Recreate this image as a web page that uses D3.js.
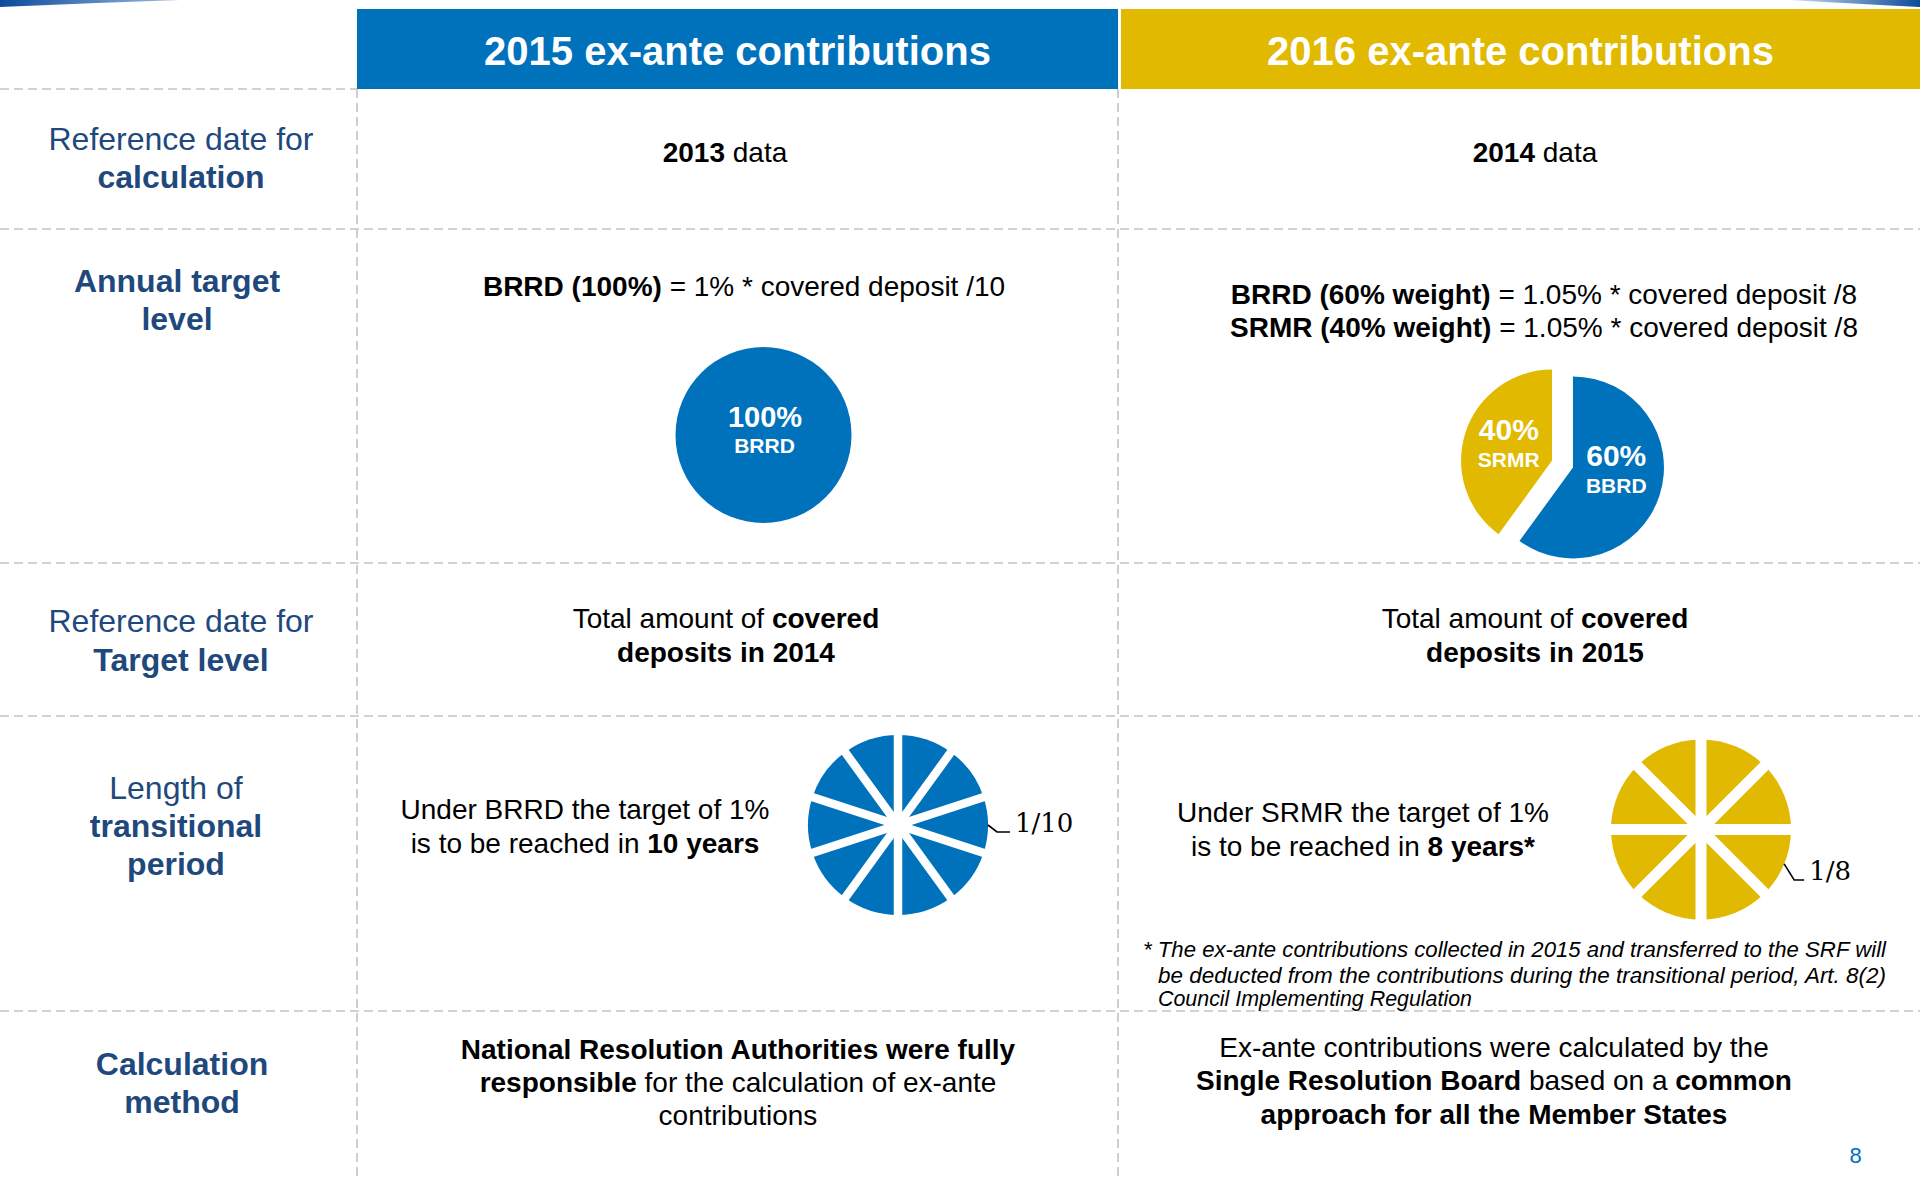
<!DOCTYPE html>
<html>
<head>
<meta charset="utf-8">
<script src="https://cdn.jsdelivr.net/npm/d3@7"></script>
<style>
body { margin: 0; background: #fff; }
svg { display: block; font-family: "Liberation Sans", Arial, sans-serif; }
text { white-space: pre; }
</style>
</head>
<body>
<svg id="chart" width="1920" height="1181"></svg>
<script>
const BLUE = "#0072bc";
const YELLOW = "#e1b900";
const NAVY = "#1f497d";

// column headers
const headers = ["2015 ex-ante contributions", "2016 ex-ante contributions"];

// row labels, each line is a list of [text, bold]
const rowLabels = [
    [[["Reference date for", false]], [["calculation", true]]],
    [[["Annual target", true]], [["level", true]]],
    [[["Reference date for", false]], [["Target level", true]]],
    [[["Length of", false]], [["transitional", true]], [["period", true]]],
    [[["Calculation", true]], [["method", true]]]
];

const refDates = [
    [[["2013", true], [" data", false]]],
    [[["2014", true], [" data", false]]]
];

const targetFormulas = [
    [[["BRRD (100%)", true], [" = 1% * covered deposit /10", false]]],
    [[["BRRD (60% weight)", true], [" = 1.05% * covered deposit /8", false]],
     [["SRMR (40% weight)", true], [" = 1.05% * covered deposit /8", false]]]
];

const targetRefs = [
    [[["Total amount of ", false], ["covered", true]], [["deposits in 2014", true]]],
    [[["Total amount of ", false], ["covered", true]], [["deposits in 2015", true]]]
];

const transitionTexts = [
    [[["Under BRRD the target of 1%", false]], [["is to be reached in ", false], ["10 years", true]]],
    [[["Under SRMR the target of 1%", false]], [["is to be reached in ", false], ["8 years*", true]]]
];

const methodTexts = [
    [[["National Resolution Authorities were fully", true]],
     [["responsible", true], [" for the calculation of ex-ante", false]],
     [["contributions", false]]],
    [[["Ex-ante contributions were calculated by the", false]],
     [["Single Resolution Board", true], [" based on a ", false], ["common", true]],
     [["approach for all the Member States", true]]]
];

const footnote = [
    "* The ex-ante contributions collected in 2015 and transferred to the SRF will",
    "be deducted from the contributions during the transitional period, Art. 8(2)",
    "Council Implementing Regulation"
];

// pie shares
const shares2015 = [{ name: "BRRD", value: 100 }];
const shares2016 = [{ name: "BBRD", value: 60 }, { name: "SRMR", value: 40 }];

// one slice per year of the transitional period
const years2015 = [1, 1, 1, 1, 1, 1, 1, 1, 1, 1];
const years2016 = [1, 1, 1, 1, 1, 1, 1, 1];
const yearLabels = ["1/10", "1/8"];

const svg = d3.select("#chart");

// swooshes at the top corners
const defs = svg.append("defs");
const gl = defs.append("linearGradient").attr("id", "swL");
gl.append("stop").attr("offset", 0).attr("stop-color", "#0d4a9a");
gl.append("stop").attr("offset", 1).attr("stop-color", "#9dbbe0");
const gr = defs.append("linearGradient").attr("id", "swR");
gr.append("stop").attr("offset", 0).attr("stop-color", "#c9dbef");
gr.append("stop").attr("offset", 1).attr("stop-color", "#0d4a9a");
svg.append("path").attr("d", "M0,0 L180,0 Q90,3 0,7 Z").attr("fill", "url(#swL)");
svg.append("path").attr("d", "M1790,0 L1920,0 L1920,7 Q1860,4 1790,0 Z").attr("fill", "url(#swR)");

// header boxes
const headerBoxes = [[357, 1118, BLUE], [1121, 1920, YELLOW]];
headerBoxes.forEach(([x0, x1, c], i) => {
    svg.append("rect").attr("x", x0).attr("y", 9).attr("width", x1 - x0).attr("height", 80).attr("fill", c);
    svg.append("text")
        .attr("x", (x0 + x1) / 2).attr("y", 65)
        .attr("text-anchor", "middle")
        .attr("font-size", 40).attr("font-weight", "bold").attr("fill", "#fff")
        .text(headers[i]);
});

// dashed grid
const dash = g => g.attr("stroke", "#c3c3c3").attr("stroke-width", 1.6).attr("stroke-dasharray", "9,5").attr("fill", "none");
svg.append("line").attr("x1", 0).attr("x2", 357).attr("y1", 89).attr("y2", 89).call(dash);
[229, 563, 716, 1011].forEach(y => {
    svg.append("line").attr("x1", 0).attr("x2", 1920).attr("y1", y).attr("y2", y).call(dash);
});
[357, 1118].forEach(x => {
    svg.append("line").attr("x1", x).attr("x2", x).attr("y1", 89).attr("y2", 1181).call(dash);
});

function richText(x, baselines, lines, size, color) {
    lines.forEach((line, i) => {
        const t = svg.append("text")
            .attr("x", x).attr("y", baselines[i])
            .attr("text-anchor", "middle")
            .attr("font-size", size).attr("fill", color);
        line.forEach(([s, b]) => {
            t.append("tspan").attr("font-weight", b ? "bold" : "normal").text(s);
        });
    });
}

// left column
const labelPos = [
    [181, [150, 188]],
    [177, [292, 330]],
    [181, [632, 671]],
    [176, [799, 837, 875]],
    [182, [1075, 1113]]
];
rowLabels.forEach((lines, i) => richText(labelPos[i][0], labelPos[i][1], lines, 32, NAVY));

// row 1
richText(725, [162], refDates[0], 28, "#000");
richText(1535, [162], refDates[1], 28, "#000");

// row 2
richText(744, [296], targetFormulas[0], 28, "#000");
richText(1544, [304, 337], targetFormulas[1], 28, "#000");

// row 3
richText(726, [628, 662], targetRefs[0], 28, "#000");
richText(1535, [628, 662], targetRefs[1], 28, "#000");

// row 4
richText(585, [819, 853], transitionTexts[0], 28, "#000");
richText(1363, [822, 856], transitionTexts[1], 28, "#000");

// row 5
richText(738, [1059, 1092, 1125], methodTexts[0], 28, "#000");
richText(1494, [1057, 1090, 1124], methodTexts[1], 28, "#000");

const pie = d3.pie().sort(null).value(d => d.value);
const shareColor = d3.scaleOrdinal().domain(["BRRD", "BBRD", "SRMR"]).range([BLUE, BLUE, YELLOW]);

// 2015 full pie
const g15 = svg.append("g").attr("transform", "translate(763.5,435)");
const arc15 = d3.arc().innerRadius(0).outerRadius(88);
g15.selectAll("path").data(pie(shares2015)).enter().append("path")
    .attr("d", arc15).attr("fill", d => shareColor(d.data.name));
g15.append("text").attr("x", 1.5).attr("y", -8).attr("text-anchor", "middle")
    .attr("font-size", 29).attr("font-weight", "bold").attr("fill", "#fff")
    .text(shares2015[0].value + "%");
g15.append("text").attr("x", 1).attr("y", 18).attr("text-anchor", "middle")
    .attr("font-size", 21).attr("font-weight", "bold").attr("fill", "#fff")
    .text(shares2015[0].name);

// 2016 exploded pie
const g16 = svg.append("g").attr("transform", "translate(1562.5,464)");
const arc16 = d3.arc().innerRadius(0).outerRadius(91);
const explode = 11;
const slices16 = g16.selectAll("g").data(pie(shares2016)).enter().append("g")
    .attr("transform", d => {
        const a = (d.startAngle + d.endAngle) / 2;
        return `translate(${Math.sin(a) * explode},${-Math.cos(a) * explode})`;
    });
slices16.append("path").attr("d", arc16).attr("fill", d => shareColor(d.data.name));
// labels sit a bit flatter than the centroid
const labelY = d => arc16.centroid(d)[1] * 0.68;
slices16.append("text")
    .attr("x", d => arc16.centroid(d)[0])
    .attr("y", d => labelY(d) - 11)
    .attr("text-anchor", "middle")
    .attr("font-size", 30).attr("font-weight", "bold").attr("fill", "#fff")
    .text(d => d.data.value + "%");
slices16.append("text")
    .attr("x", d => arc16.centroid(d)[0])
    .attr("y", d => labelY(d) + 16)
    .attr("text-anchor", "middle")
    .attr("font-size", 21).attr("font-weight", "bold").attr("fill", "#fff")
    .text(d => d.data.name);

// transition wheels: full slices, then white bands along every slice edge
function wheel(cx, cy, years, color, gap, label, lead) {
    const r = 90;
    const g = svg.append("g").attr("transform", `translate(${cx},${cy})`);
    const arc = d3.arc().innerRadius(0).outerRadius(r);
    const slices = d3.pie().sort(null).value(d => d)(years);
    g.selectAll("path").data(slices).enter().append("path")
        .attr("d", arc).attr("fill", color);
    g.selectAll("line").data(slices).enter().append("line")
        .attr("x1", 0).attr("y1", 0)
        .attr("x2", d => Math.sin(d.startAngle) * (r + 2))
        .attr("y2", d => -Math.cos(d.startAngle) * (r + 2))
        .attr("stroke", "#fff").attr("stroke-width", gap);
    // leader from the third slice
    const s = slices[2];
    const a = (s.startAngle + s.endAngle) / 2;
    const p0 = [Math.sin(a) * r, -Math.cos(a) * r];
    const p1 = [p0[0] + lead[0], p0[1] + lead[1]];
    const p2 = [p1[0] + lead[2], p1[1]];
    g.append("path").attr("d", d3.line()([p0, p1, p2]))
        .attr("fill", "none").attr("stroke", "#000").attr("stroke-width", 1.6);
    g.append("text").attr("x", p2[0] + 5).attr("y", p2[1])
        .attr("font-family", "DejaVu Serif, serif").attr("font-size", 26).attr("fill", "#000")
        .text(label);
}
wheel(898, 825, years2015, BLUE, 8.5, yearLabels[0], [9, 7, 13]);
wheel(1701, 829.5, years2016, YELLOW, 11, yearLabels[1], [10, 16, 10]);

// footnote
const fnPos = [[1143, 956.5, 743], [1158, 982.5, 728], [1158, 1006, 314]];
footnote.forEach((s, i) => {
    svg.append("text")
        .attr("x", fnPos[i][0]).attr("y", fnPos[i][1])
        .attr("font-style", "italic").attr("font-size", 22).attr("fill", "#000")
        .attr("textLength", fnPos[i][2]).attr("lengthAdjust", "spacingAndGlyphs")
        .text(s);
});

// page number
svg.append("text").attr("x", 1855.5).attr("y", 1163).attr("text-anchor", "middle")
    .attr("font-size", 22).attr("fill", "#0070c0").text("8");
</script>
</body>
</html>
